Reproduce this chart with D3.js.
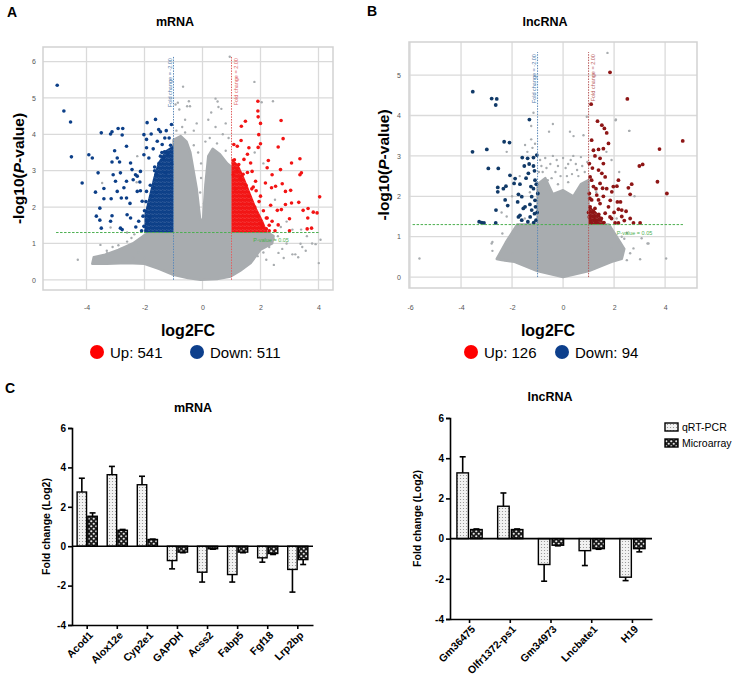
<!DOCTYPE html>
<html><head><meta charset="utf-8">
<script src="https://cdn.jsdelivr.net/npm/d3@7"></script>
<style>body{margin:0;background:#fff} text{font-family:"Liberation Sans",Arial,sans-serif}</style>
</head><body><svg id="c" width="746" height="677"></svg>
<script>
// ---------------- DATA ----------------
// Panel A (mRNA volcano): [log2FC, -log10(P)]
const mrnaGreyCloud = [[-3.8,0.44],[-3.75,0.62],[-3.4,0.68],[-2.9,0.82],[-2.4,1.0],[-2.05,1.2],[-1.85,1.3],[-1.0,1.3],[-1.0,3.85],[-0.75,3.95],[-0.55,3.8],[-0.42,3.5],[-0.2,2.5],[-0.08,1.65],[0.02,1.65],[0.1,2.6],[0.2,3.4],[0.35,3.6],[0.6,3.45],[0.85,3.2],[1.0,3.1],[1.0,1.3],[2.25,1.3],[2.45,1.2],[2.4,1.0],[2.0,0.83],[1.66,0.46],[1.3,0.25],[0.97,0.09],[0.5,0.02],[-0.07,0],[-0.5,0.05],[-1.0,0.14],[-1.5,0.3],[-2.0,0.44],[-2.6,0.46],[-3.3,0.44]];
const mrnaBlueCore = [[-1.0,1.3],[-2.0,1.3],[-2.0,1.8],[-1.85,2.3],[-1.7,2.8],[-1.55,3.2],[-1.3,3.55],[-1.0,3.7]];
const mrnaRedCore = [[1.0,1.3],[2.25,1.3],[2.1,1.6],[1.85,2.0],[1.65,2.4],[1.45,2.8],[1.25,3.15],[1.0,3.35]];
const mrnaBluePts = [[-5.01,5.35],[-4.78,4.64],[-4.55,4.34],[-4.52,3.38],[-4.15,2.66],[-3.92,3.44],[-3.80,3.35],[-3.49,4.04],[-3.17,4.01],[-3.12,4.07],[-2.91,4.16],[-2.75,4.16],[-2.77,3.98],[-2.62,3.67],[-3.03,3.55],[-2.94,3.35],[-3.12,3.24],[-2.86,3.24],[-3.60,2.94],[-3.69,2.41],[-3.40,2.51],[-3.54,1.97],[-3.66,1.75],[-3.54,1.64],[-3.49,1.42],[-3.40,2.23],[-3.15,2.23],[-3.12,1.76],[-3.17,1.61],[-2.83,1.42],[-2.77,1.38],[-2.80,2.25],[-2.62,2.25],[-2.48,3.21],[-2.43,3.03],[-2.31,2.89],[-2.39,2.75],[-2.25,2.85],[-2.14,2.98],[-2.16,2.69],[-2.62,2.71],[-2.83,2.94],[-3.08,2.89],[-3.00,2.71],[-2.94,2.43],[-2.71,2.53],[-2.60,1.79],[-2.48,1.70],[-2.20,1.61],[-2.25,2.43],[-2.14,2.45],[-2.08,2.16],[-1.93,2.43],[-1.82,1.72],[-1.91,4.32],[-2.02,3.99],[-1.93,3.86],[-1.93,3.63],[-2.02,3.44],[-1.85,3.35],[-1.77,4.01],[-1.62,4.41],[-1.51,4.13],[-1.45,4.07],[-1.56,3.81],[-1.39,3.72],[-1.31,3.52],[-1.07,4.27],[-1.28,2.94],[-1.68,2.53],[-2.02,1.47],[-1.85,2.0],[-1.9,1.6],[-1.75,2.3],[-1.6,2.9],[-1.5,3.2],[-1.35,3.35],[-1.2,3.45],[-1.1,3.7],[-1.15,3.9],[-1.4,3.5],[-1.65,3.1],[-2.0,1.9],[-1.95,1.35],[-1.3,3.9],[-1.05,3.2],[-1.6,2.4],[-2.3,1.45],[-2.5,2.1],[-1.7,3.6],[-1.25,4.1],[-2.1,1.35],[-2.05,1.75],[-1.95,2.15],[-1.8,2.6],[-1.65,3.0],[-1.45,3.4]];
const mrnaRedPts = [[1.91,4.91],[1.91,4.64],[1.92,4.48],[2.00,4.30],[1.48,4.36],[1.34,4.22],[2.71,4.38],[1.94,3.99],[2.78,3.88],[1.33,3.83],[1.60,3.63],[1.92,3.64],[2.00,3.74],[1.08,3.72],[1.20,3.67],[2.61,3.65],[3.07,3.21],[3.36,3.33],[2.27,3.28],[3.41,2.94],[3.36,2.89],[2.23,3.08],[2.69,3.03],[2.40,2.89],[2.52,2.57],[2.75,2.64],[2.86,2.43],[3.04,2.46],[2.38,2.53],[2.17,2.66],[2.58,1.91],[2.72,1.93],[2.86,2.07],[3.07,2.11],[3.32,2.13],[3.47,1.91],[3.64,1.96],[3.82,1.86],[4.04,2.28],[3.63,1.70],[3.00,1.68],[3.76,1.42],[3.61,1.40],[2.61,1.51],[3.00,1.35],[2.40,1.61],[2.23,1.70],[2.06,1.47],[1.83,2.71],[1.71,2.98],[1.43,3.31],[1.25,3.17],[1.66,3.21],[3.95,1.84],[1.1,3.3],[1.2,3.0],[1.3,2.8],[1.5,2.6],[1.6,2.3],[1.8,2.0],[1.9,1.75],[2.0,1.55],[2.2,1.4],[1.15,2.5],[1.05,2.9],[1.4,2.9],[1.7,2.5],[2.1,1.9],[2.3,1.5],[2.5,1.35],[2.0,2.3],[1.85,2.45],[2.35,2.05],[1.55,3.45],[2.3,1.35],[2.2,1.7],[1.95,2.15],[1.75,2.55],[1.55,2.95]];
const mrnaGreyPts = [[-0.67,5.31],[0.94,6.13],[1.79,5.44],[2.43,4.91],[2.04,4.88],[0.45,4.98],[0.52,4.9],[0.55,4.75],[-0.47,4.91],[-0.93,4.82],[-0.8,4.68],[-0.43,4.77],[0.3,4.6],[0.65,4.7],[-2.25,3.40],[-2.27,2.68],[-3.46,2.66],[-3.29,0.73],[-3.7,0.62],[-4.3,0.55],[4.01,0.46],[4.07,1.1],[3.44,0.9],[3.56,0.8],[3.2,0.7],[3.3,0.62],[2.46,0.41],[2.62,0.74],[3.40,1.38],[3.1,1.38],[2.9,1.0],[3.38,0.99],[3.78,1.0],[3.9,0.98],[3.1,0.7],[2.75,0.85],[-3.52,0.96],[-3.3,0.8],[-3.1,0.9],[-2.9,0.95],[-2.8,0.85],[-2.6,1.05],[-2.45,1.15],[-3.17,1.44],[-2.35,1.25],[-2.6,1.3],[-0.85,4.87],[-0.53,4.77],[-0.2,4.3],[-0.6,4.4],[0.2,4.4],[0.8,4.3],[-0.05,3.2],[-0.05,2.8],[-0.08,2.4],[0.05,2.1],[-0.3,4.1],[0.45,4.2],[2.2,1.25],[2.45,1.12],[2.6,1.2],[2.3,0.9],[2.1,0.75],[1.9,0.65],[2.2,0.55],[-2.2,0.75],[-2.4,0.6],[-2.0,0.6],[1.8,3.5],[2.1,3.2],[2.5,2.2],[2.9,1.6],[2.7,1.45],[-0.9,4.1],[0.9,3.9],[-0.7,4.2],[0.7,4.0],[3.6,1.2],[2.8,0.6],[-0.3,3.7],[0.1,3.8],[0.25,3.9],[-0.15,3.5],[-0.6,4.05],[0.5,3.75],[0.8,3.55]];
// Panel B (lncRNA volcano)
const lncGreyCloud = [[-2.6,0.45],[-2.25,0.85],[-1.95,1.15],[-1.8,1.3],[-1.0,1.3],[-1.0,2.3],[-0.7,2.45],[-0.4,2.05],[0,2.15],[0.4,2.0],[0.7,2.3],[1.0,2.4],[1.0,1.3],[1.8,1.3],[2.1,1.0],[2.4,0.7],[2.3,0.45],[1.9,0.38],[1.0,0.15],[0,0],[-1.0,0.15],[-1.9,0.38],[-2.4,0.42]];
const lncRedCore = [[1.0,1.3],[1.6,1.3],[1.5,1.48],[1.3,1.62],[1.1,1.72],[1.0,1.78]];
const lncBluePts = [[-3.54,4.59],[-2.80,4.42],[-2.60,4.41],[-2.64,4.26],[-3.55,3.10],[-2.99,3.16],[-2.31,3.35],[-2.10,3.33],[-1.32,3.90],[-2.93,2.69],[-2.54,2.69],[-1.60,2.96],[-1.39,2.94],[-1.16,2.96],[-1.52,2.75],[-1.33,2.80],[-1.16,2.75],[-1.12,2.63],[-1.36,2.57],[-2.08,2.52],[-1.88,2.44],[-1.92,2.32],[-1.69,2.30],[-2.24,2.25],[-2.34,2.19],[-2.56,2.22],[-2.56,2.11],[-1.75,2.05],[-1.62,1.99],[-2.27,1.91],[-2.17,1.77],[-1.78,1.86],[-1.56,1.70],[-1.23,1.99],[-1.16,2.19],[-1.10,2.40],[-1.26,2.24],[-1.1,1.9],[-1.08,1.74],[-1.12,1.57],[-1.06,1.41],[-1.23,1.66],[-1.29,1.49],[-1.38,1.37],[-1.75,1.49],[-1.62,1.41],[-1.69,1.53],[-2.63,1.66],[-2.64,1.34],[-3.29,1.37],[-3.19,1.35],[-3.10,1.34],[-1.03,3.02],[-0.99,2.07],[-1.49,1.74],[-1.05,2.3],[-1.02,1.6],[-1.15,1.35],[-1.45,2.45],[-1.3,1.8]];
const lncRedPts = [[1.84,5.07],[1.10,4.28],[2.52,4.41],[1.35,3.86],[1.62,3.68],[1.52,3.76],[1.71,3.57],[1.78,3.31],[1.12,3.39],[1.19,3.14],[1.39,3.16],[1.58,3.18],[4.69,3.37],[3.78,3.17],[2.99,2.75],[3.12,2.79],[3.70,2.36],[4.07,2.07],[2.69,2.30],[2.56,2.21],[2.63,2.05],[2.17,2.40],[2.11,2.25],[1.97,2.24],[1.91,2.11],[2.13,1.86],[2.25,1.86],[2.47,1.63],[2.30,1.66],[2.17,1.68],[2.63,1.45],[2.76,1.34],[3.02,1.34],[2.17,1.34],[2.04,1.34],[1.45,2.94],[1.58,2.81],[1.39,2.65],[1.52,2.57],[1.65,2.48],[1.45,2.32],[1.71,2.19],[1.58,2.00],[1.45,1.82],[1.78,1.74],[1.65,1.58],[1.84,1.49],[1.03,2.81],[1.06,2.48],[1.12,2.40],[1.19,2.24],[1.03,2.07],[1.12,1.91],[1.06,1.74],[1.19,1.62],[1.03,1.49],[1.25,1.41],[1.32,1.37],[1.29,2.19],[1.32,2.03],[1.39,1.91],[1.25,1.70],[2.0,1.6],[1.9,1.45],[2.4,1.4],[1.5,1.45],[1.6,1.35],[1.1,1.35],[1.2,1.5],[1.4,1.55],[1.0,1.6],[1.05,1.95],[1.15,2.7],[1.25,3.0],[1.55,2.2],[1.85,1.9],[2.3,1.5]];
const lncGreyPts = [[1.74,5.55],[0.93,3.97],[-0.40,3.79],[-0.55,3.6],[0.27,3.60],[2.60,3.62],[2.07,3.90],[-5.63,0.46],[4.04,0.46],[3.02,0.44],[3.31,0.83],[2.5,1.1],[2.3,1.0],[-2.80,0.83],[-2.34,0.43],[-2.21,1.5],[-2.41,1.6],[-2.21,3.1],[-2.77,0.87],[-2.38,1.08],[-1.49,3.27],[-1.25,3.41],[-1.16,4.07],[-1.25,3.74],[-1.75,1.12],[-2.01,0.99],[-2.21,0.71],[-1.99,0.58],[-2.27,0.42],[-2.77,0.65],[2.06,3.88],[2.59,3.62],[0.41,3.49],[0.80,3.51],[3.08,0.96],[3.35,0.83],[2.76,0.71],[2.63,0.59],[2.5,0.42],[2.2,0.85],[2.4,0.95],[-0.9,2.9],[-0.7,2.95],[-0.5,2.8],[-0.3,2.6],[-0.1,2.5],[0.1,2.7],[0.3,2.9],[0.5,2.8],[0.7,2.97],[0.85,2.6],[-0.8,2.6],[-0.6,2.4],[-0.2,2.3],[0.2,2.35],[0.6,2.5],[0.9,2.2],[-0.95,2.6],[-0.4,3.0],[0.0,2.95],[0.4,3.0],[0.75,2.75],[-0.45,2.45],[0.35,2.55],[-1.3,2.1],[-1.5,1.45],[-1.7,2.5],[-2.0,2.0],[-1.2,3.2],[-1.4,3.1],[-1.1,3.3],[1.3,2.1],[1.9,2.9],[2.2,2.6],[1.7,3.1],[2.8,2.0],[2.1,1.45],[2.0,1.0],[1.9,0.7],[-0.2,2.75],[0.15,2.5],[-0.65,2.7],[-0.85,2.75],[0.55,2.65],[0.95,2.85],[-0.25,2.9],[0.2,2.8]];
const volcanoXTicksA = [-4,-2,0,2,4];
const volcanoYTicksA = [0,1,2,3,4,5,6];
const volcanoXTicksB = [-6,-4,-2,0,2,4];
const volcanoYTicksB = [0,1,2,3,4,5];
const countsA = {up:541, down:511};
const countsB = {up:126, down:94};

// Panel C bar charts
const seriesNames = ["qRT-PCR","Microarray"];
const mrnaGenes = ["Acod1","Alox12e","Cyp2e1","GAPDH","Acss2","Fabp5","Fgf18","Lrp2bp"];
const mrnaQpcr = [2.75,3.63,3.12,-0.73,-1.32,-1.44,-0.59,-1.18];
const mrnaQpcrSd = [0.70,0.42,0.43,0.42,0.50,0.38,0.22,1.15];
const mrnaMicro = [1.52,0.81,0.34,-0.30,-0.13,-0.30,-0.37,-0.68];
const mrnaMicroSd = [0.17,0.04,0.02,0.03,0.02,0.03,0.05,0.25];
const lncGenes = ["Gm36475","Olfr1372-ps1","Gm34973","Lncbate1","H19"];
const lncQpcr = [3.27,1.61,-1.29,-0.60,-1.92];
const lncQpcrSd = [0.80,0.66,0.83,0.74,0.17];
const lncMicro = [0.45,0.45,-0.33,-0.50,-0.50];
const lncMicroSd = [0.03,0.03,0.03,0.03,0.16];
const barYTicks = [-4,-2,0,2,4,6];

// ---------------- DRAW ----------------
const svg = d3.select('#c');
svg.append('rect').attr('width',746).attr('height',677).attr('fill','#fff');
const defs = svg.append('defs');
const p1 = defs.append('pattern').attr('id','dots').attr('width',3).attr('height',3).attr('patternUnits','userSpaceOnUse');
p1.append('rect').attr('width',3).attr('height',3).attr('fill','#f2f2f2');
p1.append('circle').attr('cx',1.5).attr('cy',1.5).attr('r',0.6).attr('fill','#8c8c8c');
const p2 = defs.append('pattern').attr('id','checks').attr('width',5).attr('height',5).attr('patternUnits','userSpaceOnUse');
p2.append('rect').attr('width',5).attr('height',5).attr('fill','#1c1c1c');
p2.append('circle').attr('cx',1.25).attr('cy',1.25).attr('r',1.1).attr('fill','#e6e6e6');
p2.append('circle').attr('cx',3.75).attr('cy',3.75).attr('r',1.1).attr('fill','#e6e6e6');
function speckle(id, color){
  const p = defs.append('pattern').attr('id',id).attr('width',4).attr('height',4).attr('patternUnits','userSpaceOnUse');
  [[1,1],[3,3],[3,0.8],[1,3.2]].forEach(c=>p.append('circle').attr('cx',c[0]).attr('cy',c[1]).attr('r',1.25).attr('fill',color));
}
speckle('blueA','#0c3f88'); speckle('redA','#f21414'); speckle('redB','#8e1616');

function label(t, x, y, size, weight, anchor){
  return svg.append('text').attr('x',x).attr('y',y).attr('font-size',size).attr('font-weight',weight||'normal').attr('text-anchor',anchor||'middle').attr('fill','#000').text(t);
}

function volcano(o){
  const x = d3.scaleLinear().domain(o.xDom).range(o.xRange);
  const y = d3.scaleLinear().domain(o.yDom).range(o.yRange);
  const g = svg.append('g');
  const grey = '#a8acaf';
  g.selectAll('.vg').data(o.xTicks).join('line').attr('x1',d=>x(d)).attr('x2',d=>x(d))
    .attr('y1',o.yRange[0]).attr('y2',o.yRange[1]).attr('stroke','#dadada').attr('stroke-width',1.3);
  g.selectAll('.hg').data(o.yTicks).join('line').attr('y1',d=>y(d)).attr('y2',d=>y(d))
    .attr('x1',o.xRange[0]).attr('x2',o.xRange[1]).attr('stroke','#dadada').attr('stroke-width',1.3);
  g.append('rect').attr('x',o.xRange[0]).attr('y',o.yRange[1]).attr('width',o.xRange[1]-o.xRange[0])
    .attr('height',o.yRange[0]-o.yRange[1]).attr('fill','none').attr('stroke','#d2d2d2').attr('stroke-width',1.5);
  const line = d3.line().x(d=>x(d[0])).y(d=>y(d[1])).curve(d3.curveLinearClosed);
  g.append('path').attr('d',line(o.cloud)).attr('fill',grey).attr('stroke',grey).attr('stroke-width',2.5).attr('stroke-linejoin','round');
  g.selectAll('.gp').data(o.greyPts).join('circle').attr('cx',d=>x(d[0])).attr('cy',d=>y(d[1])).attr('r',1.2).attr('fill',grey);
  if(o.blueCore) g.append('path').attr('d',line(o.blueCore)).attr('fill',o.blueFill).attr('stroke','none');
  if(o.redCore) g.append('path').attr('d',line(o.redCore)).attr('fill',o.redFill).attr('stroke','none');
  g.selectAll('.bp').data(o.bluePts).join('circle').attr('cx',d=>x(d[0])).attr('cy',d=>y(d[1])).attr('r',o.r).attr('fill',o.blue);
  g.selectAll('.rp').data(o.redPts).join('circle').attr('cx',d=>x(d[0])).attr('cy',d=>y(d[1])).attr('r',o.r).attr('fill',o.red);
  // thresholds
  g.append('line').attr('x1',x(-1)).attr('x2',x(-1)).attr('y1',y(0)).attr('y2',y(o.vTop)).attr('stroke','#5d89b8').attr('stroke-width',1).attr('stroke-dasharray','1.5,1.2');
  g.append('line').attr('x1',x(1)).attr('x2',x(1)).attr('y1',y(0)).attr('y2',y(o.vTop)).attr('stroke',o.redLine).attr('stroke-width',1).attr('stroke-dasharray','1.5,1.2');
  g.append('line').attr('x1',x(o.hRange[0])).attr('x2',x(o.hRange[1])).attr('y1',y(1.3)).attr('y2',y(1.3)).attr('stroke','#4caf50').attr('stroke-width',1).attr('stroke-dasharray','2.5,1.5');
  g.append('text').attr('transform',`translate(${x(-1)-2},${y(o.vTop)+2}) rotate(-90)`).attr('text-anchor','end').attr('font-size',5.5).attr('fill','#4a78a8').text('Fold change = -2.00');
  g.append('text').attr('transform',`translate(${x(1)+6},${y(o.vTop)+2}) rotate(-90)`).attr('text-anchor','end').attr('font-size',5.5).attr('fill',o.redLine).text('Fold change = 2.00');
  g.append('text').attr('x',x(o.pLab[0])).attr('y',y(o.pLab[1])).attr('font-size',5.5).attr('fill','#4caf50').text('P-value = 0.05');
  // axes
  const ax = g.append('g').attr('transform',`translate(0,${o.xAxisY})`).call(d3.axisBottom(x).tickValues(o.xTicks).tickSize(0).tickPadding(4).tickFormat(d=>String(d)));
  ax.select('.domain').remove();
  ax.selectAll('text').attr('font-size',7).attr('fill','#555').attr('font-family','"Liberation Sans",Arial');
  const ay = g.append('g').attr('transform',`translate(${o.yAxisX},0)`).call(d3.axisLeft(y).tickValues(o.yTicks).tickSize(0).tickPadding(3).tickFormat(d=>String(d)));
  ay.select('.domain').remove();
  ay.selectAll('text').attr('font-size',7).attr('fill','#555').attr('font-family','"Liberation Sans",Arial');
  // titles
  const yt = svg.append('text').attr('transform',`translate(${o.yTitleX},${(o.yRange[0]+o.yRange[1])/2}) rotate(-90)`)
    .attr('text-anchor','middle').attr('font-size',15.5).attr('font-weight','bold');
  yt.append('tspan').text('-log10(');
  yt.append('tspan').attr('font-style','italic').text('P');
  yt.append('tspan').text('-value)');
  label('log2FC', o.xLabX, 336, 16, 'bold');
  label(o.title, o.titleX, 26, 12.5, 'bold');
  // legend
  const lg = svg.append('g');
  lg.append('circle').attr('cx',o.legX[0]).attr('cy',352).attr('r',7).attr('fill','#ff0000');
  lg.append('text').attr('x',o.legX[0]+13).attr('y',357.5).attr('font-size',15).text('Up: '+o.counts.up);
  lg.append('circle').attr('cx',o.legX[1]).attr('cy',352).attr('r',7).attr('fill','#0d3f8c');
  lg.append('text').attr('x',o.legX[1]+13).attr('y',357.5).attr('font-size',15).text('Down: '+o.counts.down);
}

volcano({xDom:[-5.5,4.5], xRange:[43,333], yDom:[-0.28,6.4], yRange:[290,47],
  xTicks:volcanoXTicksA, yTicks:volcanoYTicksA, cloud:mrnaGreyCloud, greyPts:mrnaGreyPts,
  blueCore:mrnaBlueCore, redCore:mrnaRedCore, bluePts:mrnaBluePts, redPts:mrnaRedPts,
  blue:'#0c3f88', red:'#f21414', blueFill:'url(#blueA)', redFill:'url(#redA)', redLine:'#e06060', r:1.8, vTop:6.15, hRange:[-5.05,4.05], pLab:[1.75,1.05],
  xAxisY:301, yAxisX:39, yTitleX:24, xLabX:188, title:'mRNA', titleX:175, legX:[97,197], counts:countsA});
volcano({xDom:[-6.04,5.25], xRange:[409,697], yDom:[-0.27,5.82], yRange:[288,42],
  xTicks:volcanoXTicksB, yTicks:volcanoYTicksB, cloud:lncGreyCloud, greyPts:lncGreyPts,
  blueCore:null, redCore:lncRedCore, bluePts:lncBluePts, redPts:lncRedPts,
  blue:'#113a68', red:'#8e1616', blueFill:null, redFill:'url(#redB)', redLine:'#b85a5a', r:1.9, vTop:5.57, hRange:[-5.9,4.7], pLab:[2.1,1.05],
  xAxisY:301, yAxisX:404, yTitleX:389, xLabX:548, title:'lncRNA', titleX:545, legX:[471,562], counts:countsB});

label('A',7,17,14,'bold','start');
label('B',367,16,14,'bold','start');
label('C',5,393,14,'bold','start');

function bars(o){
  const x = d3.scaleBand().domain(o.genes).range(o.xRange).paddingInner(o.pi).paddingOuter(o.po);
  const xi = d3.scaleBand().domain(seriesNames).range([0,x.bandwidth()]).paddingInner(o.gap);
  const y = d3.scaleLinear().domain([-4,6]).range(o.yRange);
  const g = svg.append('g');
  const series = [{name:seriesNames[0], v:o.q, sd:o.qsd, fill:'url(#dots)'},{name:seriesNames[1], v:o.m, sd:o.msd, fill:'url(#checks)'}];
  series.forEach(s=>{
    const data = o.genes.map((gname,i)=>({g:gname, v:s.v[i], sd:s.sd[i]}));
    g.selectAll(null).data(data).join('line').attr('x1',d=>x(d.g)+xi(s.name)+xi.bandwidth()/2).attr('x2',d=>x(d.g)+xi(s.name)+xi.bandwidth()/2)
      .attr('y1',d=>y(d.v)).attr('y2',d=>y(d.v+Math.sign(d.v)*d.sd)).attr('stroke','#000').attr('stroke-width',1.6);
    g.selectAll(null).data(data).join('line').attr('x1',d=>x(d.g)+xi(s.name)+xi.bandwidth()/2-3).attr('x2',d=>x(d.g)+xi(s.name)+xi.bandwidth()/2+3)
      .attr('y1',d=>y(d.v+Math.sign(d.v)*d.sd)).attr('y2',d=>y(d.v+Math.sign(d.v)*d.sd)).attr('stroke','#000').attr('stroke-width',1.6);
    g.selectAll(null).data(data).join('rect').attr('x',d=>x(d.g)+xi(s.name)).attr('width',xi.bandwidth())
      .attr('y',d=>Math.min(y(d.v),y(0))).attr('height',d=>Math.abs(y(d.v)-y(0)))
      .attr('fill',s.fill).attr('stroke','#000').attr('stroke-width',1.4);
  });
  g.append('line').attr('x1',o.xRange[0]).attr('x2',o.xRange[1]).attr('y1',y(0)).attr('y2',y(0)).attr('stroke','#000').attr('stroke-width',1.6);
  const ay = g.append('g').attr('transform',`translate(${o.xRange[0]},0)`).call(d3.axisLeft(y).tickValues(barYTicks).tickSize(4).tickPadding(2).tickFormat(d=>String(d)));
  ay.select('.domain').attr('stroke-width',1.6); ay.selectAll('line').attr('stroke-width',1.6);
  ay.selectAll('text').attr('font-size',10).attr('font-weight','bold').attr('fill','#000').attr('font-family','"Liberation Sans",Arial');
  const ax = g.append('g').attr('transform',`translate(0,${y(-4)})`).call(d3.axisBottom(x).tickSize(4).tickSizeOuter(0));
  ax.select('.domain').attr('stroke-width',1.6); ax.selectAll('line').attr('stroke-width',1.6);
  ax.selectAll('text').attr('font-size',10.5).attr('font-weight','bold').attr('fill','#000').attr('font-family','"Liberation Sans",Arial')
    .attr('text-anchor','end').attr('dx','-0.3em').attr('dy','0.5em').attr('transform','rotate(-45)');
  svg.append('text').attr('transform',`translate(${o.yTitleX},${(y(-4)+y(6))/2}) rotate(-90)`).attr('text-anchor','middle')
    .attr('font-size',10.5).attr('font-weight','bold').text('Fold change (Log2)');
  label(o.title, o.titleX, o.titleY, 12.5, 'bold');
}
bars({genes:mrnaGenes, q:mrnaQpcr, qsd:mrnaQpcrSd, m:mrnaMicro, msd:mrnaMicroSd, xRange:[72,313], yRange:[625,428],
  pi:0.33, po:0.17, gap:0.12, yTitleX:50, title:'mRNA', titleX:193, titleY:412});
bars({genes:lncGenes, q:lncQpcr, qsd:lncQpcrSd, m:lncMicro, msd:lncMicroSd, xRange:[450,652], yRange:[619,418],
  pi:0.38, po:0.17, gap:0.16, yTitleX:421, title:'lncRNA', titleX:550, titleY:401});

const legItems = [{n:seriesNames[0], f:'url(#dots)'},{n:seriesNames[1], f:'url(#checks)'}];
const bl = svg.append('g');
bl.selectAll('rect').data(legItems).join('rect').attr('x',665).attr('y',(d,i)=>423+i*16).attr('width',13).attr('height',8)
  .attr('fill',d=>d.f).attr('stroke','#000').attr('stroke-width',1.4);
bl.selectAll('text').data(legItems).join('text').attr('x',682).attr('y',(d,i)=>431+i*16).attr('font-size',10.5).text(d=>d.n);
</script></body></html>
